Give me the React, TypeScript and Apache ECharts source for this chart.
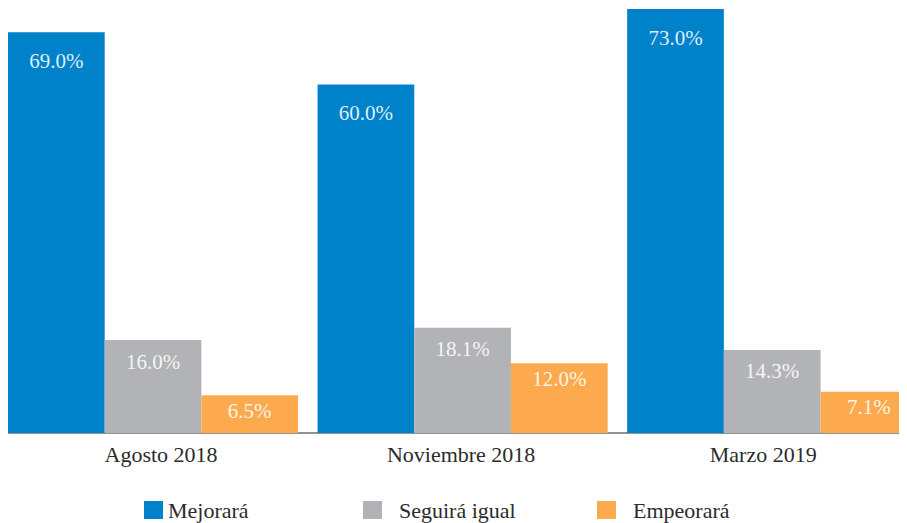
import React, { useEffect, useRef } from "react";
import * as echarts from "echarts";

const categories = ["Agosto 2018", "Noviembre 2018", "Marzo 2019"];
const seriesNames = ["Mejorará", "Seguirá igual", "Empeorará"];
const mejorara = [69.0, 60.0, 73.0];
const seguiraIgual = [16.0, 18.1, 14.3];
const empeorara = [6.5, 12.0, 7.1];

const COLORS = ["#0082cb", "#b2b3b6", "#fdaa4f"];
const FONT = "'Liberation Serif', 'Times New Roman', serif";
const TEXT = "#2b2b2b";

export default function App() {
  const ref = useRef<HTMLDivElement>(null);
  useEffect(() => {
    document.documentElement.style.overflow = "hidden";
    const chart = echarts.init(ref.current!, undefined, { renderer: "svg" });
    const mkSeries = (name: string, data: number[], color: string, dist: number) => ({
      name,
      type: "bar",
      data,
      barWidth: 96.7,
      barGap: "0%",
      itemStyle: { color },
      label: {
        show: true,
        position: "insideTop",
        distance: dist,
        color: "rgba(255,255,255,0.88)",
        fontFamily: FONT,
        fontSize: 21,
        formatter: (p: any) => p.value.toFixed(1) + "%",
      },
    });
    const legendBase = {
      top: 491,
      padding: 0,
      itemWidth: 19,
      itemHeight: 18,
      icon: "rect",
      textStyle: { fontFamily: FONT, fontSize: 22, color: TEXT, lineHeight: 22 },
    };
    const labelRich = {
      a: { fontFamily: FONT, fontSize: 22, color: TEXT, padding: [0, 0, 0, 16] },
      b: { fontFamily: FONT, fontSize: 22, color: TEXT, padding: [0, 3, 0, 0] },
      c: { fontFamily: FONT, fontSize: 22, color: TEXT, padding: [0, 18, 0, 0] },
    };
    chart.setOption({
      animation: false,
      grid: { left: 0.25, right: 0, top: 1, bottom: 90, containLabel: false },
      legend: [
        { ...legendBase, left: 146, data: [seriesNames[0]] },
        { ...legendBase, left: 365, data: [seriesNames[1]], textStyle: { ...legendBase.textStyle, padding: [0, 0, 0, 12] } },
        { ...legendBase, left: 599, data: [seriesNames[2]], textStyle: { ...legendBase.textStyle, padding: [0, 0, 0, 12] } },
      ],
      xAxis: {
        type: "category",
        data: categories,
        axisLine: { show: true, lineStyle: { color: "#6d6e70", width: 1.5 } },
        axisTick: { show: false },
        axisLabel: {
          fontFamily: FONT,
          fontSize: 22,
          color: TEXT,
          margin: 10,
          formatter: (v: string, i: number) => `{${["a", "b", "c"][i]}|${v}}`,
          rich: labelRich,
        },
      },
      yAxis: {
        type: "value",
        min: 0,
        max: 73,
        show: false,
        splitLine: { show: false },
      },
      series: [
        mkSeries(seriesNames[0], mejorara, COLORS[0], 18),
        mkSeries(seriesNames[1], seguiraIgual, COLORS[1], 11),
        mkSeries(seriesNames[2], empeorara, COLORS[2], 5),
      ],
    });
    return () => chart.dispose();
  }, []);
  return (
    <div style={{ width: 899, height: 515, overflow: "hidden" }}>
      <div ref={ref} style={{ width: 929, height: 515, marginLeft: -10 }} />
    </div>
  );
}
